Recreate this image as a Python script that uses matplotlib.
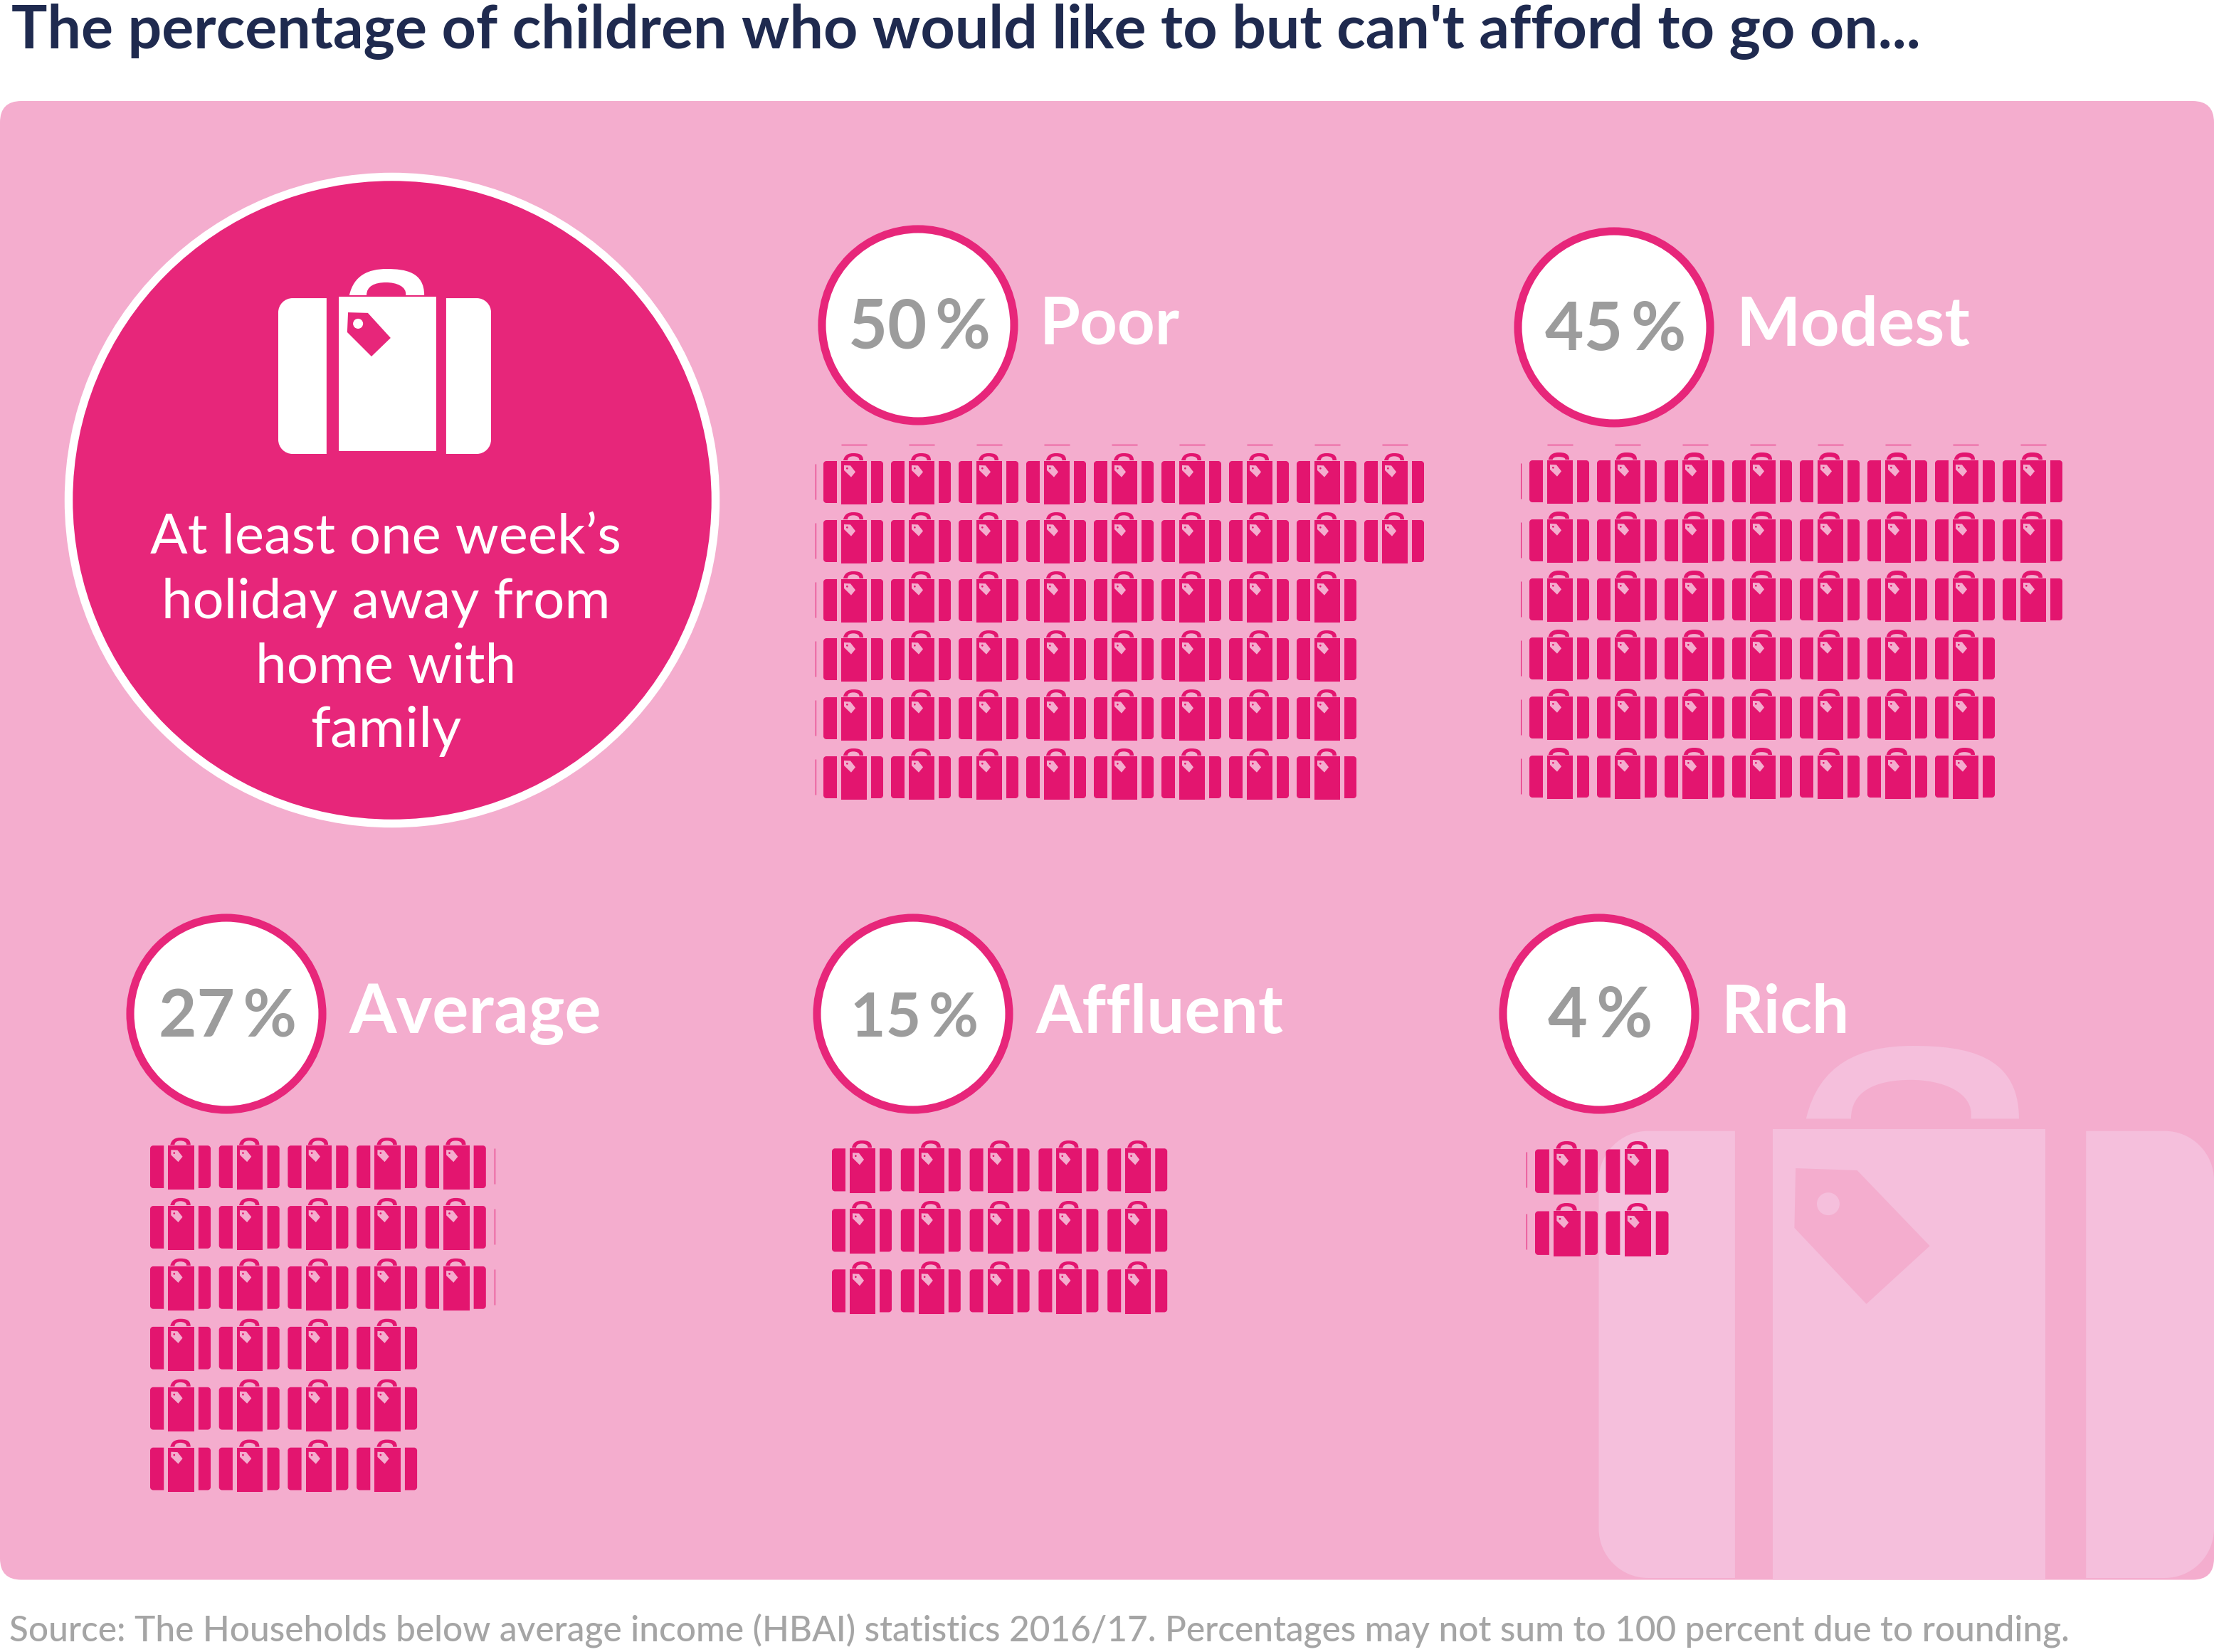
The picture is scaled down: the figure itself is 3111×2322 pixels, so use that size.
import matplotlib
matplotlib.use("Agg")
import matplotlib.pyplot as plt
from matplotlib.patches import Circle, Rectangle, PathPatch, Polygon, FancyBboxPatch
from matplotlib.path import Path

# ---------- data ----------
title_text = "The percentage of children who would like to but can't afford to go on..."
source_text = "Source: The Households below average income (HBAI) statistics 2016/17. Percentages may not sum to 100 percent due to rounding."
intro_lines = ["At least one week\u2019s", "holiday away from", "home with", "family"]
group_labels = ["Poor", "Modest", "Average", "Affluent", "Rich"]
group_values = [50, 45, 27, 15, 4]
group_rows = [6, 6, 6, 3, 2]

# ---------- style / layout (pixels of the 3111x2322 canvas) ----------
W, H = 3111, 2322
PANEL = "#F4ADCE"; LIGHT = "#F5BFDC"; RING = "#E7267A"; BAG = "#E3156F"
GREY = "#9C9C9C"; NAVY = "#1F2A4F"; SRC = "#A5A5A5"
FONT = "Lato"

circle_xy = [(1290, 457), (2268, 460), (318, 1425), (1283, 1425), (2247, 1425)]
circle_r = 140.5
label_pos = [(1461, 483, 197), (2439, 486, 329), (491, 1452, 354), (1456, 1452, 348), (2419, 1452, 180)]
pct_w = [200, 198, 194, 180, 147]
intro_w = [662, 630, 366, 212]
intro_base = [778, 869, 960, 1050]
grid_x0 = [1157, 2149, 211, 1169, 2157]
grid_y0 = [637, 636, 1599, 1603, 1604]
grid_dx = [95, 95, 96.7, 96.8, 99.5]
grid_dy = [83, 83, 84.9, 85, 87]
icon_w = [84, 84, 85, 84, 88]
icon_h = [72, 72, 73, 73.5, 75]
edge_v_x = [1146, 2137, 695, None, 2145]
edge_h_y = [624.7, 624.7, None, None, None]

BIG = dict(L=(0, .227), C=(.284, .742), R=(.789, 1), top=.158, ctop=.15, bot=1, cbot=.983,
           hx=(.334, .686), ix=(.415, .599), hb=.142, it=.073, r=.067,
           tag=[(.328, .235), (.421, .238), (.528, .373), (.438, .473), (.324, .342)],
           hole=(.375, .296), hr=.0235)
SMALL = dict(L=(0, .226), C=(.298, .726), R=(.798, 1), top=.153, ctop=.153, bot=.972, cbot=1,
             hx=(.333, .667), ix=(.405, .60), hb=.139, it=.06, r=.05,
             tag=[(.345, .236), (.452, .241), (.536, .366), (.464, .468), (.345, .333)],
             hole=(.397, .296), hr=.016)


def side_piece(x0, x1, y0, y1, r, rounded):
    """Luggage side panel, rounded on its outer edge only."""
    k = r * 0.45
    if rounded == "left":
        v = [(x1, y0), (x0 + r, y0), (x0 + k, y0), (x0, y0 + k), (x0, y0 + r), (x0, y1 - r),
             (x0, y1 - k), (x0 + k, y1), (x0 + r, y1), (x1, y1), (x1, y0)]
    else:
        v = [(x0, y0), (x1 - r, y0), (x1 - k, y0), (x1, y0 + k), (x1, y0 + r), (x1, y1 - r),
             (x1, y1 - k), (x1 - k, y1), (x1 - r, y1), (x0, y1), (x0, y0)]
    c = [Path.MOVETO, Path.LINETO, Path.CURVE4, Path.CURVE4, Path.CURVE4, Path.LINETO,
         Path.CURVE4, Path.CURVE4, Path.CURVE4, Path.LINETO, Path.CLOSEPOLY]
    return Path(v, c)


def draw_icon(ax, x, y, w, h, s, fg, bg, zorder=3, clip=None):
    px = lambda a: x + a * w
    py = lambda a: y + a * h
    items = []
    r = s["r"] * w
    items.append(PathPatch(side_piece(px(s["L"][0]), px(s["L"][1]), py(s["top"]), py(s["bot"]), r, "left"), fc=fg, ec="none"))
    items.append(PathPatch(side_piece(px(s["R"][0]), px(s["R"][1]), py(s["top"]), py(s["bot"]), r, "right"), fc=fg, ec="none"))
    items.append(Rectangle((px(s["C"][0]), py(s["ctop"])), (s["C"][1] - s["C"][0]) * w, (s["cbot"] - s["ctop"]) * h, fc=fg, ec="none"))
    # handle
    a, b = px(s["hx"][0]), px(s["hx"][1]); c, d = px(s["ix"][0]), px(s["ix"][1])
    yb, yt, yi = py(s["hb"]), y, py(s["it"])
    verts = [(a, yb), (a + .06 * (b - a), yt + .25 * (yb - yt)), (a + .25 * (b - a), yt), ((a + b) / 2, yt),
             (a + .75 * (b - a), yt), (b, yt + .12 * (yb - yt)), (b, yb), (d, yb),
             (d + .03 * (d - c), yi + .3 * (yb - yi)), (d - .25 * (d - c), yi), ((c + d) / 2, yi),
             (c + .2 * (d - c), yi), (c, yi + .3 * (yb - yi)), (c, yb), (a, yb)]
    codes = [Path.MOVETO, Path.CURVE4, Path.CURVE4, Path.CURVE4, Path.CURVE4, Path.CURVE4, Path.CURVE4, Path.LINETO,
             Path.CURVE4, Path.CURVE4, Path.CURVE4, Path.CURVE4, Path.CURVE4, Path.CURVE4, Path.CLOSEPOLY]
    items.append(PathPatch(Path(verts, codes), fc=fg, ec="none"))
    items.append(Polygon([(px(u), py(v)) for u, v in s["tag"]], closed=True, fc=bg, ec="none"))
    items.append(Circle((px(s["hole"][0]), py(s["hole"][1])), s["hr"] * w, fc=fg, ec="none"))
    for i, p in enumerate(items):
        p.set_zorder(zorder + i * 0.01)
        ax.add_patch(p)
        if clip is not None:
            p.set_clip_path(clip)


def fitted(ax, s, x, y, width, ha="left", **kw):
    """Text placed on a baseline, sized so that it spans the given pixel width."""
    t = ax.text(x, y, s, ha=ha, va="baseline", fontsize=40, family=FONT, **kw)
    ext = t.get_window_extent(renderer=fig.canvas.get_renderer())
    t.set_fontsize(40 * width / ext.width)
    return t


fig = plt.figure(figsize=(W / 100, H / 100), dpi=100, facecolor="white")
ax = fig.add_axes([0, 0, 1, 1])
ax.set_xlim(0, W); ax.set_ylim(H, 0); ax.axis("off")

panel = FancyBboxPatch((30, 172), W - 60, 2220.5 - 202, boxstyle="round,pad=30,rounding_size=30", fc=PANEL, ec="none", zorder=1)
ax.add_patch(panel)

# background suitcase, cut by the panel
bg_spec = dict(BIG)
bg_spec.update(L=(0, .2215), C=(.2825, .726), R=(.792, 1), top=.16, ctop=.157, cbot=1.01, r=.08,
               hx=(.337, .683), ix=(.41, .605), hb=.137, it=.064, hr=.0185,
               tag=[(.32, .23), (.42, .234), (.538, .376), (.435, .485), (.318, .342)], hole=(.373, .297))
draw_icon(ax, 2246.5, 1470, 864.5, 748, bg_spec, LIGHT, PANEL, zorder=2, clip=panel)

# title and source
fitted(ax, title_text, 16, 67, 2680, color=NAVY, fontweight="bold")
fitted(ax, source_text, 13, 2307, 2893, color=SRC, fontweight="medium")

# intro circle
ax.add_patch(Circle((551, 703), 454.5, fc=RING, ec="white", lw=8.3, zorder=3))
draw_icon(ax, 391, 378, 299, 260, BIG, "white", RING, zorder=4)
for line, base, w_ in zip(intro_lines, intro_base, intro_w):
    fitted(ax, line, 542, base, w_, ha="center", color="white", zorder=5)

# groups
for g, (name, val, nrows) in enumerate(zip(group_labels, group_values, group_rows)):
    cx, cy = circle_xy[g]
    ax.add_patch(Circle((cx, cy), circle_r - 5.5, fc="white", ec=RING, lw=8, zorder=3))
    fitted(ax, f"{val}\u2009%", cx + 2, cy + 32, pct_w[g], ha="center", color=GREY, fontweight="bold", zorder=4)
    lx, ly, lw_ = label_pos[g]
    fitted(ax, name, lx, ly, lw_, color="white", fontweight="bold", zorder=4)

    base, extra = divmod(val, nrows)
    spec = dict(SMALL)
    if name == "Modest":
        spec.update(hx=(.318, .667), ix=(.39, .60), it=.085)
    for r in range(nrows):
        n = base + (1 if r < extra else 0)
        for c in range(n):
            draw_icon(ax, grid_x0[g] + c * grid_dx[g], grid_y0[g] + r * grid_dy[g],
                      icon_w[g], icon_h[g], spec, BAG, PANEL, zorder=4)
        # hairline slivers at the edge of the pictogram block
        vx = edge_v_x[g]
        if vx is not None and (g != 2 or r < extra):
            ya = grid_y0[g] + r * grid_dy[g] + 15
            ax.plot([vx, vx], [ya, ya + 50], color=BAG, lw=0.75, solid_capstyle="butt", zorder=4)
    hy = edge_h_y[g]
    if hy is not None:
        for c in range(base + (1 if extra else 0)):
            xa = grid_x0[g] + c * grid_dx[g] + SMALL["C"][0] * icon_w[g]
            ax.plot([xa, xa + 36], [hy, hy], color=BAG, lw=0.75, solid_capstyle="butt", zorder=4)

fig.savefig("out.png", dpi=100, facecolor="white")
